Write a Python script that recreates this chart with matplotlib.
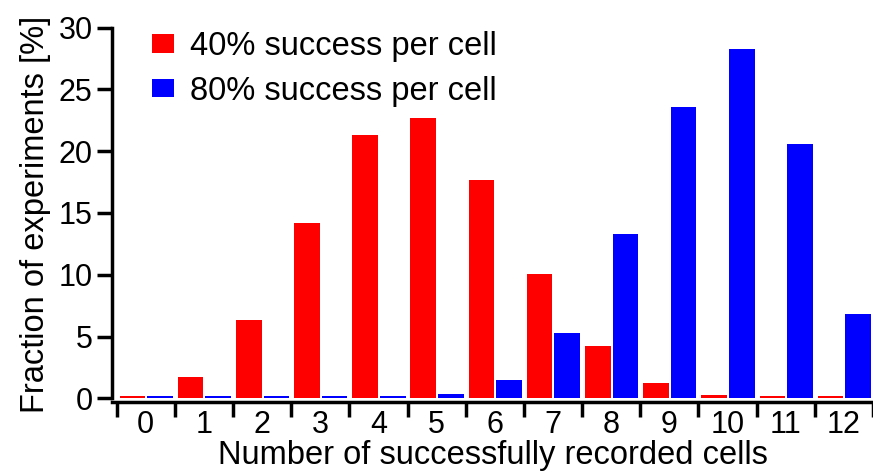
import matplotlib
matplotlib.use("Agg")
import matplotlib.pyplot as plt
import numpy as np

plt.rcParams['font.family'] = ['Liberation Sans', 'DejaVu Sans']

# number of successfully recorded cells (out of 12)
cells = list(range(13))
# fraction of experiments [%]
p40 = [0.2, 1.7, 6.35, 14.2, 21.3, 22.7, 17.65, 10.1, 4.2, 1.25, 0.25, 0.2, 0.2]
p80 = [0.2, 0.2, 0.2, 0.2, 0.2, 0.35, 1.5, 5.3, 13.3, 23.6, 28.3, 20.6, 6.85]
labels = ["40% success per cell", "80% success per cell"]

fs_tick = 22
fs_lab = 23.5

fig = plt.figure(figsize=(8.73, 4.75), dpi=100)
ax = fig.add_axes([0.1283, 0.1537, 0.8717, 0.788])

x = np.array(cells)
w = 0.44
ax.bar(x - 0.23, p40, width=w, color="#ff0000", label=labels[0])
ax.bar(x + 0.245, p80, width=w, color="#0000ff", label=labels[1])

ax.set_xlim(-0.58, 12.36)
ax.set_ylim(-0.3, 30)

for s in ["top", "right"]:
    ax.spines[s].set_visible(False)
ax.spines["left"].set_bounds(0, 30)
ax.spines["left"].set_linewidth(2.5)
ax.spines["bottom"].set_linewidth(2.5)

ax.set_yticks([0, 5, 10, 15, 20, 25, 30])
ax.tick_params(axis="y", direction="out", length=11, width=2.5, labelsize=fs_tick, pad=3)

ax.set_xticks(x)
ax.set_xticklabels([str(c) for c in cells])
ax.set_xticks(np.append(x - 0.5, 12.5), minor=True)
ax.tick_params(axis="x", which="major", length=0, labelsize=fs_tick, pad=6)
ax.tick_params(axis="x", which="minor", direction="out", length=11, width=2.5)

ax.set_ylabel("Fraction of experiments [%]", fontsize=fs_lab, labelpad=5)
ax.set_xlabel("Number of successfully recorded cells", fontsize=fs_lab, labelpad=0)

ax.legend(loc="upper left", bbox_to_anchor=(152 / 873, 1 - 31 / 475),
          bbox_transform=fig.transFigure, frameon=False, fontsize=fs_lab,
          handlelength=0.68, handleheight=0.5, handletextpad=0.48,
          labelspacing=0.42, borderpad=0, borderaxespad=0)

fig.savefig("out.png", dpi=100)
